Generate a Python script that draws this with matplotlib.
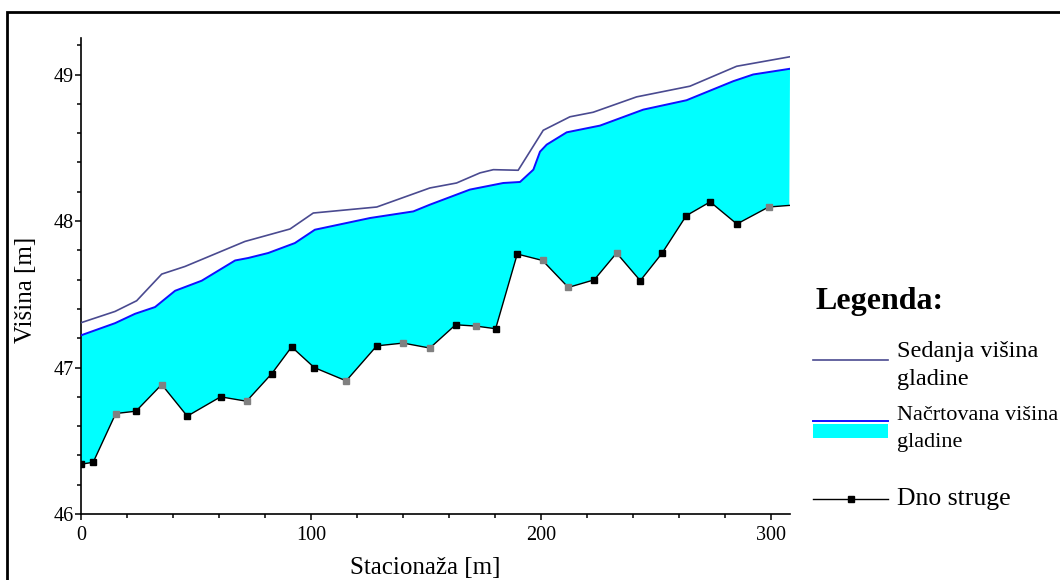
import numpy as np
import matplotlib
matplotlib.use("Agg")
import matplotlib.pyplot as plt
from matplotlib.lines import Line2D
from matplotlib.patches import Rectangle

plt.rcParams['font.family'] = ['Liberation Serif', 'DejaVu Serif']

# Sedanja visina gladine (current water level)
x_sed = [0, 14.8, 24.2, 35.1, 45.2, 71.3, 90.9, 101.0, 128.6, 151.7, 163.3, 173.5,
         179.3, 190.1, 201.0, 212.6, 222.7, 241.6, 264.8, 285.1, 308.3]
y_sed = [47.306, 47.383, 47.456, 47.638, 47.690, 47.861, 47.946, 48.055, 48.096,
         48.226, 48.260, 48.329, 48.351, 48.347, 48.620, 48.712, 48.743, 48.848,
         48.921, 49.057, 49.122]

# Nacrtovana visina gladine (planned water level)
x_nac = [0, 14.8, 23.5, 32.2, 40.9, 52.5, 67.0, 72.7, 81.4, 93.0, 101.7, 125.7,
         144.5, 151.7, 169.1, 183.6, 190.9, 196.7, 199.6, 202.5, 211.2, 225.7,
         244.5, 263.3, 283.6, 292.3, 308.3]
y_nac = [47.220, 47.303, 47.367, 47.413, 47.524, 47.593, 47.731, 47.748, 47.782,
         47.850, 47.941, 48.021, 48.066, 48.112, 48.215, 48.260, 48.267, 48.351,
         48.474, 48.522, 48.606, 48.652, 48.761, 48.825, 48.955, 49.001, 49.040]

# Dno struge (river bed)
x_dno = [0, 5.3, 15.1, 23.9, 35.1, 46.2, 60.7, 72.0, 83.0, 91.6, 101.4, 115.3,
         128.6, 140.1, 151.7, 162.9, 171.7, 180.3, 189.7, 200.7, 211.9, 223.2,
         232.9, 243.2, 252.6, 263.2, 273.6, 285.2, 299.0, 308.0]
y_dno = [46.340, 46.353, 46.686, 46.702, 46.884, 46.668, 46.800, 46.770, 46.959,
         47.141, 47.000, 46.909, 47.148, 47.167, 47.133, 47.292, 47.283, 47.265,
         47.775, 47.731, 47.547, 47.599, 47.782, 47.593, 47.779, 48.037, 48.131,
         47.980, 48.096, 48.107]
# marker shade per point (g = gray, k = black, '' = none)
m_dno = ['k', 'k', 'g', 'k', 'g', 'k', 'k', 'g', 'k', 'k', 'k', 'g', 'k', 'g', 'g',
         'k', 'g', 'k', 'k', 'g', 'g', 'k', 'g', 'k', 'k', 'k', 'k', 'k', 'g', '']

W, H = 1060, 580
fig = plt.figure(figsize=(W / 100, H / 100), dpi=100)


def fx(px):
    return px / W


def fy(py):
    return 1 - py / H


ax = fig.add_axes([fx(81), fy(514), fx(790) - fx(81), fy(38) - fy(514)])

xn = np.array(x_nac)
yn = np.array(y_nac)
xd = np.array(x_dno)
yd = np.array(y_dno)

ax.fill(np.concatenate([xn, xd[::-1]]), np.concatenate([yn, yd[::-1]]),
        color='#00ffff', lw=0, zorder=1)
ax.plot(x_sed, y_sed, color='#4a4a90', lw=1.2, zorder=3)
ax.plot(x_nac, y_nac, color='#1010ff', lw=1.4, zorder=3)
ax.plot(x_dno, y_dno, color='black', lw=1.0, zorder=4)
for xi, yi, m in zip(x_dno, y_dno, m_dno):
    if m == '':
        continue
    c = 'black' if m == 'k' else '#808080'
    ax.plot([xi], [yi], marker='s', ms=5, color=c, mec=c, lw=0, zorder=5)

ax.set_xlim(0, 308.3)
ax.set_ylim(46, 49.25)
ax.set_xticks([0, 100, 200, 300])
ax.set_xticks(np.arange(0, 309, 20), minor=True)
ax.set_yticks([46, 47, 48, 49])
ax.set_yticks(np.arange(46, 49.21, 0.2), minor=True)
ax.spines['top'].set_visible(False)
ax.spines['right'].set_visible(False)
ax.spines['left'].set_linewidth(1.2)
ax.spines['bottom'].set_linewidth(1.2)
ax.tick_params(which='major', length=4, width=1.1, labelsize=14.5)
ax.tick_params(axis='x', which='major', pad=5)
ax.tick_params(axis='y', which='major', pad=1)
ax.tick_params(which='minor', length=3, width=1.1)
ax.set_xlabel('Stacionaža [m]', fontsize=18)
ax.set_ylabel('Višina [m]', fontsize=18)
ax.xaxis.set_label_coords((425 - 81) / 709, -(557 - 514) / 476)
ax.yaxis.set_label_coords(-(81 - 37) / 709, (514 - 290) / 476)

# outer frame
fig.patches.append(Rectangle((fx(7), fy(600)), 1.0, fy(12) - fy(600),
                             transform=fig.transFigure, fill=False,
                             ec='black', lw=2.0))

# legend drawn by hand
fig.text(fx(815), fy(301), 'Legenda:', fontsize=23, fontweight='bold',
         va='center', ha='left')
fig.lines.append(Line2D([fx(813), fx(888)], [fy(360), fy(360)],
                        transform=fig.transFigure, color='#4a4a90', lw=1.2))
fig.text(fx(897), fy(351), 'Sedanja višina', fontsize=17.5, va='center')
fig.text(fx(897), fy(380), 'gladine', fontsize=17.5, va='center')
fig.patches.append(Rectangle((fx(813), fy(438)), fx(888) - fx(813), fy(424) - fy(438),
                             transform=fig.transFigure, color='#00ffff', lw=0))
fig.lines.append(Line2D([fx(813), fx(888)], [fy(421), fy(421)],
                        transform=fig.transFigure, color='#1010ff', lw=1.4))
fig.text(fx(897), fy(416), 'Načrtovana višina', fontsize=16, va='center')
fig.text(fx(897), fy(442), 'gladine', fontsize=16, va='center')
fig.lines.append(Line2D([fx(813), fx(851), fx(888)], [fy(499)] * 3,
                        transform=fig.transFigure, color='black', lw=1.0,
                        marker='s', ms=5, markevery=[1]))
fig.text(fx(897), fy(499), 'Dno struge', fontsize=18.5, va='center')

fig.savefig('out.png', dpi=100)
